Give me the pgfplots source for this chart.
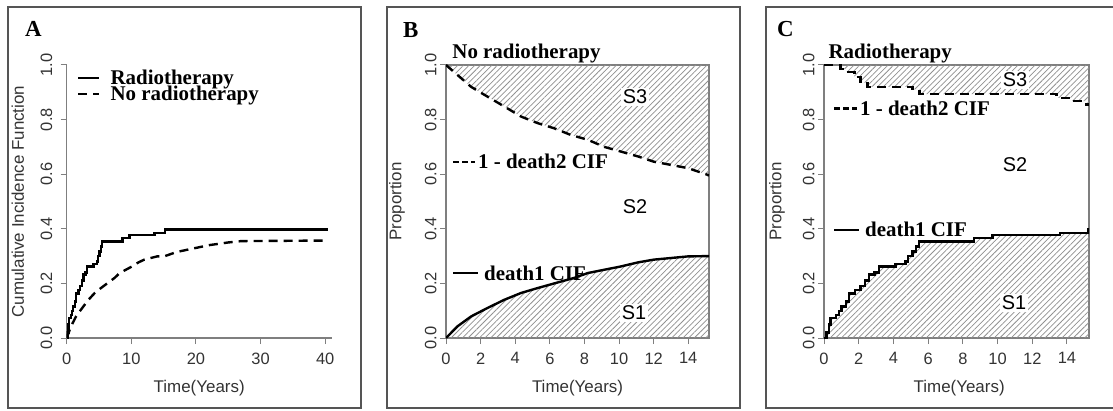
\documentclass[border=0pt]{standalone}
\usepackage{fontspec}
\setmainfont{Liberation Serif}
\setsansfont{Liberation Sans}
\usepackage{pgfplots}
\usepackage{pgfplotstable}
\pgfplotsset{compat=1.18}
\usetikzlibrary{patterns.meta}
\definecolor{axgray}{HTML}{7F7F7F}
\definecolor{txtgray}{HTML}{333333}
\definecolor{hatchgray}{HTML}{909090}
\definecolor{framegray}{HTML}{555555}
\newcommand\tickfont{\sffamily\fontsize{16.5}{18}\selectfont}
\newcommand\labfont{\sffamily\fontsize{17}{19}\selectfont}
\newcommand\boldfont{\rmfamily\bfseries\fontsize{21}{23}\selectfont}
\newcommand\panelfont{\rmfamily\bfseries\fontsize{23}{25}\selectfont}
\newcommand\sfont{\sffamily\fontsize{20}{22}\selectfont}

% Radiotherapy: death1 CIF (step function)
\pgfplotstableread{
t cif
0 0
0.15 0.02
0.3 0.05
0.38 0.073
0.7 0.085
0.86 0.10
1.0 0.115
1.25 0.134
1.44 0.163
1.8 0.175
2.1 0.19
2.35 0.21
2.6 0.232
2.9 0.24
3.17 0.262
4.13 0.27
4.7 0.28
4.85 0.30
5.1 0.317
5.3 0.335
5.47 0.354
8.65 0.366
9.7 0.378
13.6 0.384
15.25 0.397
40.5 0.397
}\radcif

% No radiotherapy: death1 CIF
\pgfplotstableread{
t cif
0 0
0.67 0.043
1.45 0.079
2.4 0.11
3.37 0.14
4.34 0.165
5.3 0.183
6.26 0.2
7.4 0.22
8.2 0.238
9.15 0.25
10.1 0.262
11.1 0.277
12 0.287
13 0.293
14 0.299
15.2 0.30
17 0.315
20 0.33
22 0.34
25 0.35
27 0.355
40.5 0.357
}\noradcif

% No radiotherapy: 1 - death2 CIF
\pgfplotstableread{
t s
0 1.0
0.67 0.963
1.45 0.92
2.4 0.884
3.37 0.848
4.34 0.811
5.3 0.787
6.26 0.768
7.2 0.744
8.2 0.726
9.15 0.70
10.1 0.683
11.1 0.665
12 0.646
13 0.634
14 0.622
15.1 0.598
15.2 0.595
}\noraddeath

% Radiotherapy: 1 - death2 CIF (step function)
\pgfplotstableread{
t s
0 1.0
0.95 0.985
1.3 0.975
1.75 0.955
2.1 0.935
2.5 0.92
5.1 0.911
5.5 0.893
13.4 0.88
14.3 0.868
15.1 0.855
15.27 0.855
}\raddeath

\pgfplotsset{
  cifbase/.style={
    scale only axis, anchor=south west,
    ymin=0, ymax=1,
    ytick={0,0.2,0.4,0.6,0.8,1},
    yticklabels={0.0,0.2,0.4,0.6,0.8,1.0},
    /pgf/number format/assume math mode=true,
    tick label style={font=\tickfont, text=txtgray},
    yticklabel style={rotate=90, anchor=south},
    xticklabel style={yshift=-5bp},
    label style={font=\labfont, text=txtgray},
    xlabel={Time(Years)},
    tick align=outside, major tick length=6bp,
    tick style={axgray, line width=1bp},
    axis line style={axgray, line width=1.1bp},
    xtick pos=bottom, ytick pos=left,
    minor tick num=0,
  },
  hatchfill/.style={draw=none, pattern={Lines[angle=45,distance=4bp,line width=0.75bp]}, pattern color=hatchgray},
  curve/.style={black, line width=2.4bp},
  dcurve/.style={black, line width=2.4bp, dash pattern=on 9bp off 6bp},
}

\begin{document}
\begin{tikzpicture}[x=1bp,y=1bp]
\useasboundingbox (0,0) rectangle (1113,410);
% panel frames
\draw[framegray, line width=2bp] (8,2) rectangle (361,403);
\draw[framegray, line width=2bp] (387,2) rectangle (740,403);
\draw[framegray, line width=2bp] (1120,403) -- (766,403) -- (766,2) -- (1120,2);

% ---------------- Panel A ----------------
\begin{axis}[cifbase, at={(66.7bp,72bp)}, width=265bp, height=273bp,
  xmin=0, xmax=41, axis lines*=left,
  xtick={0,10,20,30,40},
  yticklabel style={yshift=5bp},
  ylabel={Cumulative Incidence Function},
  ylabel style={at={(axis description cs:-0.184,0.5)}, anchor=center},
  xlabel style={at={(axis description cs:0.5,-0.183)}, anchor=center},
  legend style={draw=none, fill=none, font=\boldfont, text=black,
    at={(axis description cs:0.039,0.982)}, anchor=north west,
    inner sep=0pt, row sep=0bp, column sep=10bp,
    nodes={inner sep=0pt}},
  legend cell align=left,
  legend image code/.code={\draw[#1] (0bp,0bp) -- (21bp,0bp);},
]
\addplot[curve, const plot] table[x=t, y=cif] {\radcif};
\addlegendentry{Radiotherapy}
\addplot[dcurve] table[x=t, y=cif] {\noradcif};
\addlegendentry{No radiotherapy}
\end{axis}

% ---------------- Panel B ----------------
\begin{axis}[cifbase, at={(446bp,72bp)}, width=263bp, height=273bp,
  xmin=0, xmax=15.2, xtick={0,2,...,14},
  ylabel={Proportion},
  ylabel style={at={(axis description cs:-0.186,0.5)}, anchor=center},
  xlabel style={at={(axis description cs:0.5,-0.183)}, anchor=center},
  title={No radiotherapy},
  title style={font=\boldfont, at={(axis description cs:0.011,1)}, anchor=base west, yshift=1bp},
]
\addplot[hatchfill] table[x=t, y=cif] {\noradcif} \closedcycle;
\addplot[hatchfill] table[x=t, y=s] {
t s
0 1.0
0.67 0.963
1.45 0.92
2.4 0.884
3.37 0.848
4.34 0.811
5.3 0.787
6.26 0.768
7.2 0.744
8.2 0.726
9.15 0.70
10.1 0.683
11.1 0.665
12 0.646
13 0.634
14 0.622
15.1 0.598
15.2 0.595
15.2 1.0
};
\addplot[curve] table[x=t, y=cif] {\noradcif};
\addplot[dcurve] table[x=t, y=s] {\noraddeath};
\end{axis}

% ---------------- Panel C ----------------
\begin{axis}[cifbase, at={(824bp,72bp)}, width=265bp, height=273bp,
  xmin=0, xmax=15.27, xtick={0,2,...,14},
  ylabel={Proportion},
  ylabel style={at={(axis description cs:-0.177,0.5)}, anchor=center},
  xlabel style={at={(axis description cs:0.51,-0.183)}, anchor=center},
  title={Radiotherapy},
  title style={font=\boldfont, at={(axis description cs:0.004,1)}, anchor=base west, yshift=1bp},
]
\addplot[hatchfill, const plot] table[x=t, y=cif] {\radcif} \closedcycle;
\addplot[hatchfill, const plot] table[x=t, y=s] {
t s
0 1.0
0.95 0.985
1.3 0.975
1.75 0.955
2.1 0.935
2.5 0.92
5.1 0.911
5.5 0.893
13.4 0.88
14.3 0.868
15.1 0.855
15.27 0.855
15.27 1.0
};
\addplot[curve, const plot] table[x=t, y=cif] {\radcif};
\addplot[dcurve, const plot] table[x=t, y=s] {\raddeath};
\end{axis}

% panel letters
\node[font=\panelfont, anchor=base west, inner sep=0pt] at (25,374) {A};
\node[font=\panelfont, anchor=base west, inner sep=0pt] at (403,373) {B};
\node[font=\panelfont, anchor=base west, inner sep=0pt] at (777,374) {C};

% panel B keys and region labels
\draw[black, line width=2.4bp, dash pattern=on 6bp off 3bp] (453,248.3) -- (475,248.3);
\node[font=\boldfont, anchor=base west, inner sep=0pt] at (478,242) {1 - death2 CIF};
\draw[black, line width=2.4bp] (453,137.3) -- (478,137.3);
\node[font=\boldfont, anchor=base west, inner sep=0pt] at (484,130) {death1 CIF};
\node[font=\sfont, fill=white, inner sep=2bp] at (635,313) {S3};
\node[font=\sfont, fill=white, inner sep=2bp] at (635,203) {S2};
\node[font=\sfont, fill=white, inner sep=2bp] at (634,97) {S1};

% panel C keys and region labels
\draw[black, line width=2.4bp, dash pattern=on 6bp off 3bp] (834,301.7) -- (857,301.7);
\node[font=\boldfont, anchor=base west, inner sep=0pt] at (860,295) {1 - death2 CIF};
\draw[black, line width=2.4bp] (834,180) -- (859,180);
\node[font=\boldfont, anchor=base west, inner sep=0pt] at (865,173.3) {death1 CIF};
\node[font=\sfont, fill=white, inner sep=2bp] at (1015,330) {S3};
\node[font=\sfont, fill=white, inner sep=2bp] at (1015,245) {S2};
\node[font=\sfont, fill=white, inner sep=2bp] at (1014,107) {S1};
\end{tikzpicture}
\end{document}
